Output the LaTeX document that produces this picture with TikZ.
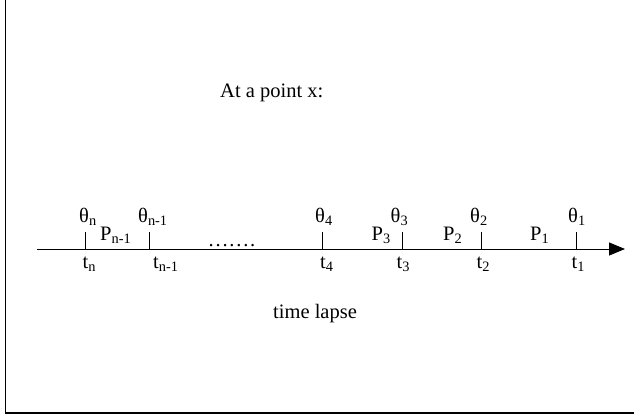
\documentclass[tikz,border=0pt]{standalone}
\usepackage{fontspec}
\setmainfont{Liberation Serif}
\usetikzlibrary{arrows.meta}
\newcommand{\lbl}[2]{#1\textsubscript{#2}}
\newcommand{\dotrow}{.\kern1.8pt.\kern1.8pt.\kern1.8pt.\kern1.8pt.\kern1.8pt.\kern1.8pt.}

\begin{document}
\begin{tikzpicture}[x=1pt,y=-1pt,
  txt/.style={anchor=base west,inner sep=0pt,font=\fontsize{20.5}{24}\selectfont},
  tick/.style={line width=0.9pt,black}]
\useasboundingbox (0,0) rectangle (634,418);
% frame (left and bottom edges only)
\coordinate (ftop) at (5.5,0);
\coordinate (fcorner) at (5.5,413);
\coordinate (fright) at (634,413);
\draw[line width=1.2pt] (ftop) -- (fcorner) -- (fright);
\node[txt] (title) at (220,97) {At a point x:};
% time axis
\coordinate (start) at (37,249);
\coordinate (end) at (625,249);
\draw[line width=1pt,-{Triangle[length=16pt,width=13pt]}] (start) -- (end);
\foreach \x/\n in {85.5/n,149/m,322.7/4,402.3/3,481.3/2,576.3/1}{
  \coordinate (t\n) at (\x,249);
  \coordinate (u\n) at (\x,232);
  \draw[tick] (t\n) -- (u\n);}
% theta labels above, t labels below
\node[txt] (thn) at (79,222) {\lbl{θ}{n}};
\node[txt] (thm) at (138,222) {\lbl{θ}{n-1}};
\node[txt] (th4) at (315,222) {\lbl{θ}{4}};
\node[txt] (th3) at (390.5,222) {\lbl{θ}{3}};
\node[txt] (th2) at (470,222) {\lbl{θ}{2}};
\node[txt] (th1) at (568,222) {\lbl{θ}{1}};
\node[txt] (ltn) at (82.5,268) {\lbl{t}{n}};
\node[txt] (ltm) at (153,268) {\lbl{t}{n-1}};
\node[txt] (lt4) at (320,268) {\lbl{t}{4}};
\node[txt] (lt3) at (396.5,268) {\lbl{t}{3}};
\node[txt] (lt2) at (476.5,268) {\lbl{t}{2}};
\node[txt] (lt1) at (571.5,268) {\lbl{t}{1}};
% periods between ticks
\node[txt] (pm) at (100,240) {\lbl{P}{n-1}};
\node[txt] (p3) at (371.5,240) {\lbl{P}{3}};
\node[txt] (p2) at (443,240) {\lbl{P}{2}};
\node[txt] (p1) at (530,240) {\lbl{P}{1}};
\node[txt] (gap) at (208.5,246) {\dotrow};
\node[txt] (lapse) at (273,318) {time lapse};
\end{tikzpicture}
\end{document}
